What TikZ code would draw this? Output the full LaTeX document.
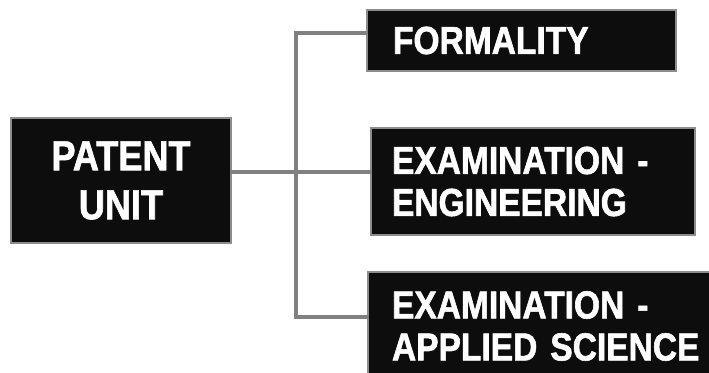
\documentclass[tikz,border=0pt]{standalone}
\usepackage{fontspec}
\setmainfont{Liberation Sans}[FakeStretch=0.86,BoldFeatures={FakeBold=1.5}]
\begin{document}
\begin{tikzpicture}[x=1pt,y=-1pt,
  box/.style={draw=black!45,line width=1.2pt,fill=black!95,text=white,
    font=\fontsize{39}{42}\selectfont\bfseries,inner ysep=0pt},
  lbox/.style={box,align=left,anchor=center},
  conn/.style={draw=black!50,line width=3.5pt,line cap=rect}]
\useasboundingbox (0,0) rectangle (709,372);
\node[box,align=center,minimum width=220pt,minimum height=125pt,
  font=\fontsize{42}{49}\selectfont\bfseries] (pu) at (121,180.5) {PATENT\\UNIT};
\node[lbox,inner xsep=26pt,text width=257pt,minimum height=61pt] (fm) at (521.5,40.5) {FORMALITY};
\node[lbox,inner xsep=21pt,text width=282pt,minimum height=107pt] (eg) at (533,181.5) {EXAMINATION -\\ENGINEERING};
\node[lbox,inner xsep=24pt,text width=320pt,minimum height=108pt] (ap) at (552,326) {EXAMINATION -\\APPLIED SCIENCE};
\coordinate (t) at (296,33);
\coordinate (m) at (296,172);
\coordinate (b) at (296,317);
\draw[conn] (fm.west |- t) -- (t) -- (b) -- (ap.west |- b);
\draw[conn] (pu.east |- m) -- (eg.west |- m);
\end{tikzpicture}
\end{document}
